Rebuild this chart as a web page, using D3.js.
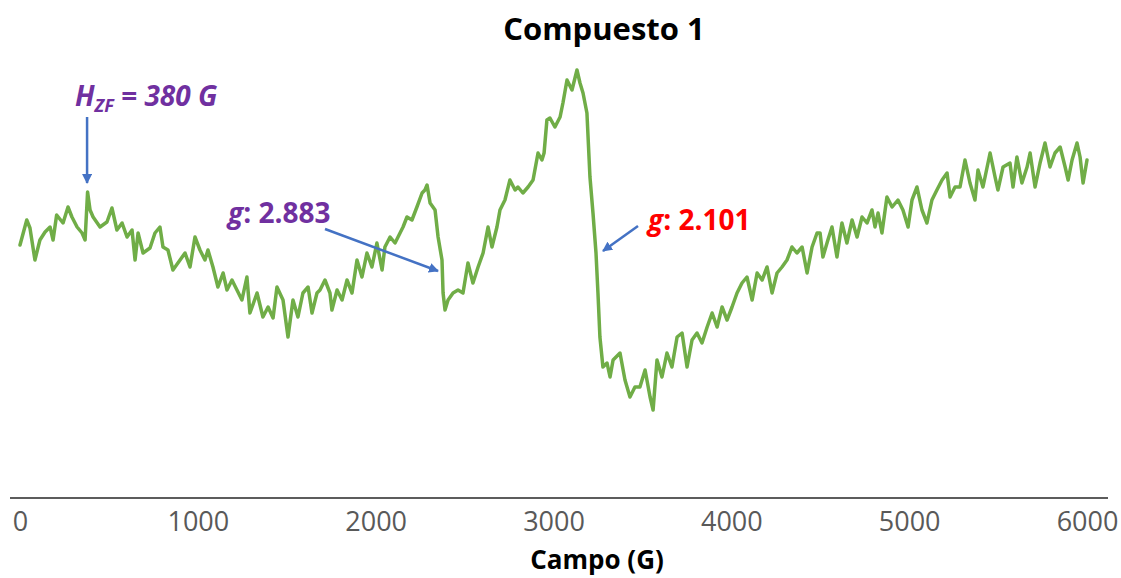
<!DOCTYPE html>
<html>
<head>
<meta charset="utf-8">
<script src="https://cdn.jsdelivr.net/npm/d3@7"></script>
<style>
  html, body { margin: 0; padding: 0; background: #fff; }
  svg { display: block; }
  text { font-family: "Open Sans", "Noto Sans", sans-serif; }
</style>
</head>
<body>
<svg id="chart" width="1121" height="578"></svg>
<script>
// EPR spectrum of Compuesto 1: field (G) vs. derivative intensity (a.u.)
const field = [
  0, 38, 56, 84, 112, 141, 169, 186, 206, 242, 270, 292, 321, 349, 366, 380, 394, 411, 450, 489,
  517, 545, 574, 602, 630, 647, 664, 692, 731, 759, 787, 804, 832, 860, 900, 928, 956, 984, 1012, 1040,
  1057, 1085, 1113, 1142, 1164, 1192, 1220, 1248, 1276, 1293, 1333, 1366, 1395, 1423, 1445, 1479, 1507, 1535, 1563, 1591,
  1620, 1642, 1670, 1687, 1715, 1743, 1754, 1783, 1811, 1839, 1867, 1895, 1923, 1951, 1979, 2007, 2036, 2052, 2081, 2109,
  2137, 2154, 2176, 2204, 2232, 2261, 2277, 2289, 2306, 2334, 2351, 2373, 2379, 2390, 2407, 2435, 2463, 2491, 2519, 2547,
  2576, 2604, 2632, 2654, 2682, 2699, 2727, 2755, 2784, 2800, 2828, 2857, 2885, 2913, 2935, 2947, 2963, 2980, 3008, 3037,
  3053, 3076, 3104, 3132, 3149, 3166, 3188, 3205, 3222, 3239, 3250, 3261, 3278, 3301, 3318, 3335, 3374, 3402, 3430, 3458,
  3486, 3515, 3543, 3560, 3582, 3610, 3638, 3666, 3695, 3723, 3751, 3779, 3807, 3835, 3864, 3892, 3920, 3948, 3976, 4004,
  4032, 4060, 4088, 4117, 4145, 4173, 4201, 4229, 4257, 4285, 4313, 4341, 4369, 4398, 4426, 4454, 4482, 4499, 4515, 4543,
  4566, 4594, 4622, 4650, 4679, 4707, 4735, 4763, 4791, 4808, 4825, 4847, 4875, 4904, 4937, 4965, 4994, 5016, 5044, 5072,
  5100, 5128, 5156, 5185, 5213, 5230, 5258, 5286, 5314, 5342, 5370, 5387, 5415, 5455, 5483, 5499, 5528, 5567, 5584, 5606,
  5634, 5663, 5680, 5708, 5736, 5764, 5792, 5820, 5849, 5877, 5894, 5916, 5944, 5961, 5978, 6000
];
const intensity = [
  15, 40, 32, 0, 20, 28, 33, 20, 45, 37, 53, 43, 33, 27, 20, 68, 50, 43, 33, 38,
  52, 30, 37, 23, 30, 0, 27, 7, 12, 27, 33, 13, 10, -10, 0, 7, -7, 23, 10, 0,
  10, -7, -27, -13, -30, -20, -30, -40, -17, -53, -33, -57, -47, -58, -27, -40, -77, -40, -57, -33,
  -27, -53, -33, -30, -20, -33, -50, -30, -40, -20, -33, 0, -17, 7, -7, 17, -10, 13, 23, 17,
  27, 33, 43, 40, 53, 67, 70, 75, 57, 50, 23, 0, -33, -50, -40, -33, -30, -33, -3, -23,
  -7, 7, 33, 13, 33, 50, 60, 80, 70, 73, 67, 73, 80, 107, 100, 107, 140, 142, 133, 143,
  157, 180, 170, 190, 177, 167, 147, 83, 47, 7, -33, -77, -107, -103, -117, -100, -93, -120, -137, -127,
  -127, -110, -137, -150, -100, -117, -93, -107, -77, -73, -107, -80, -73, -83, -67, -53, -67, -47, -60, -47,
  -33, -23, -17, -40, -13, -20, -7, -33, -13, -7, 0, 13, 7, 13, -13, 13, 27, 27, 3, 20,
  33, 3, 37, 17, 40, 23, 43, 37, 50, 33, 47, 27, 63, 53, 60, 50, 33, 60, 73, 50,
  37, 60, 70, 80, 87, 63, 73, 73, 100, 77, 60, 90, 73, 107, 83, 70, 93, 97, 73, 103,
  77, 93, 107, 73, 97, 117, 93, 107, 113, 93, 80, 100, 117, 103, 77, 100
];
const fieldTicks = [0, 1000, 2000, 3000, 4000, 5000, 6000];

const titleText = "Compuesto 1";
const axisTitle = "Campo (G)";

// Annotated features of the spectrum
const hzfField = 380;
const gPeaks = [
  { g: "2.883", field: 2390, color: "#7030A0" },
  { g: "2.101", field: 3250, color: "#FF0000" }
];

const svg = d3.select("#chart");

const x = d3.scaleLinear().domain([0, 6000]).range([20, 1087]);
const y = d3.scaleLinear().domain([-240, 200]).range([500, 60]);

const data = field.map((f, i) => ({ f, v: intensity[i] }));

// Horizontal axis (the frame line runs a little past the first and last tick)
const axisY = 498;
const axisG = svg.append("g").attr("transform", `translate(0,${axisY})`);
axisG.call(d3.axisBottom(x).tickValues(fieldTicks).tickSize(0).tickPadding(0).tickFormat(d3.format("d")));
axisG.select(".domain").remove();
axisG.append("line")
  .attr("x1", x.range()[0] - 10).attr("x2", x.range()[1] + 21)
  .attr("stroke", "#262626").attr("stroke-width", 1.5);
axisG.selectAll(".tick text")
  .attr("y", 33)
  .attr("dy", 0)
  .attr("fill", "#595959")
  .style("font-size", "27px")
  .style("font-family", "'Open Sans', sans-serif");

// Spectrum trace
svg.append("path")
  .datum(data)
  .attr("fill", "none")
  .attr("stroke", "#70AD47")
  .attr("stroke-width", 3.5)
  .attr("stroke-linejoin", "round")
  .attr("stroke-linecap", "round")
  .attr("d", d3.line().x(d => x(d.f)).y(d => y(d.v)));

// Title and axis title
svg.append("text")
  .attr("x", 604).attr("y", 40)
  .attr("text-anchor", "middle")
  .attr("font-weight", "bold")
  .attr("font-size", 31)
  .attr("fill", "#000")
  .text(titleText);

svg.append("text")
  .attr("x", 597).attr("y", 569)
  .attr("text-anchor", "middle")
  .attr("font-weight", "bold")
  .attr("font-size", 26)
  .attr("fill", "#000")
  .text(axisTitle);

// Arrow marker
svg.append("defs").append("marker")
  .attr("id", "arrowhead")
  .attr("viewBox", "0 0 10 10")
  .attr("refX", 9).attr("refY", 5)
  .attr("markerWidth", 4).attr("markerHeight", 4)
  .attr("orient", "auto")
  .append("path")
  .attr("d", "M0,0 L10,5 L0,10 Z")
  .attr("fill", "#4472C4");

function arrow(x1, y1, x2, y2) {
  svg.append("line")
    .attr("x1", x1).attr("y1", y1).attr("x2", x2).attr("y2", y2)
    .attr("stroke", "#4472C4").attr("stroke-width", 2.5)
    .attr("marker-end", "url(#arrowhead)");
}

// Zero-field feature
const hz = svg.append("text")
  .attr("x", 75).attr("y", 106)
  .attr("fill", "#7030A0")
  .attr("font-weight", "bold")
  .attr("font-style", "italic")
  .attr("font-size", 28);
hz.append("tspan").text("H");
hz.append("tspan").attr("font-size", 18).attr("dy", 6).text("ZF");
hz.append("tspan").attr("dy", -6).text(" = " + hzfField + " G");
arrow(x(hzfField) - 0.5, 117, x(hzfField) - 0.5, 183);

// g-value labels
const gLabelPos = [
  { tx: 228, ty: 223, ax1: 325, ay1: 229, ax2: 438, ay2: 271 },
  { tx: 648, ty: 230, ax1: 638, ay1: 226, ax2: 603, ay2: 251 }
];
gPeaks.forEach((p, i) => {
  const pos = gLabelPos[i];
  const t = svg.append("text")
    .attr("x", pos.tx).attr("y", pos.ty)
    .attr("fill", p.color)
    .attr("font-weight", "bold")
    .attr("font-size", 28);
  t.append("tspan").attr("font-style", "italic").text("g");
  t.append("tspan").text(": " + p.g);
  arrow(pos.ax1, pos.ay1, pos.ax2, pos.ay2);
});
</script>
</body>
</html>
